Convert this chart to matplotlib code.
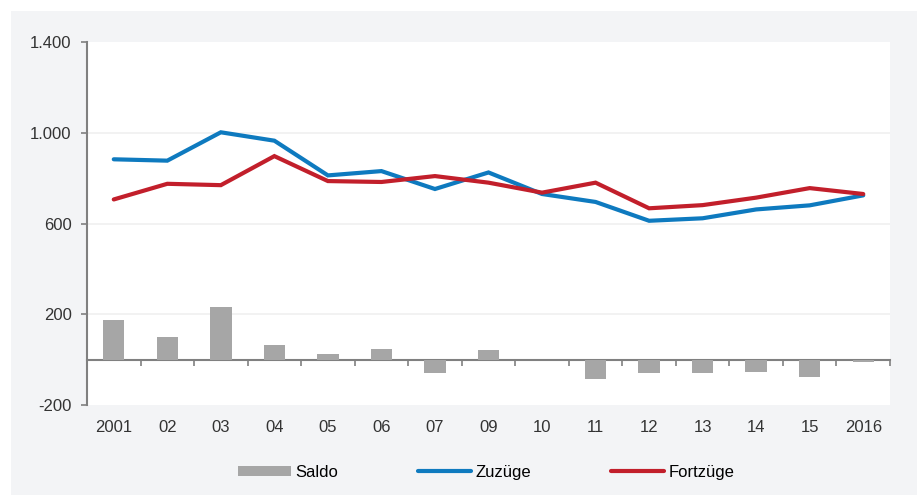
import matplotlib.pyplot as plt
import numpy as np
from matplotlib.patches import Rectangle

# Wanderungen: Zuzuege, Fortzuege und Saldo
jahre = ['2001', '02', '03', '04', '05', '06', '07', '09', '10',
         '11', '12', '13', '14', '15', '2016']
zuzuege = [883, 877, 1002, 965, 812, 831, 752, 825, 730,
           695, 612, 623, 662, 680, 724]
fortzuege = [706, 775, 769, 897, 787, 783, 809, 780, 736,
             780, 667, 681, 714, 756, 730]
saldo = [175, 101, 232, 64, 25, 49, -58, 43, 0,
         -86, -58, -58, -55, -75, -12]
y_ticks = [-200, 200, 600, 1000, 1400]
y_labels = ['-200', '200', '600', '1.000', '1.400']

plt.rcParams['font.family'] = ['Liberation Sans', 'DejaVu Sans']
plt.rcParams['font.size'] = 12

fig = plt.figure(figsize=(9.17, 4.95), dpi=100)
fig.patch.set_facecolor('white')
fig.patches.append(Rectangle((11/917, 0), 1, 484/495, transform=fig.transFigure,
                             facecolor='#f3f4f6', edgecolor='none', zorder=-10))

ax = fig.add_axes([87/917, 90/495, 803/917, 363/495])
ax.set_facecolor('white')

x = np.arange(len(jahre))
b = ax.bar(x, saldo, width=0.4, color='#a6a6a6', edgecolor='none',
           label='Saldo', zorder=2)
l1, = ax.plot(x, zuzuege, color='#0e7abf', lw=3, solid_capstyle='round',
              solid_joinstyle='miter', label='Zuzüge', zorder=3)
l2, = ax.plot(x, fortzuege, color='#c21f2b', lw=3, solid_capstyle='round',
              solid_joinstyle='miter', label='Fortzüge', zorder=4)

ax.set_xlim(-0.5, len(jahre) - 0.5)
ax.set_ylim(-200, 1400)
ax.set_yticks(y_ticks)
ax.set_yticklabels(y_labels, color='#333333')
for v in y_ticks[1:-1]:
    ax.axhline(v, color='#f0f0f0', lw=1.2, zorder=0)

ax.set_xticks(x)
ax.set_xticklabels(jahre, color='#333333')
ax.tick_params(axis='x', length=0, pad=11)
ax.tick_params(axis='y', length=4, width=1.2, color='#808080', pad=7)

for s in ['top', 'right', 'bottom']:
    ax.spines[s].set_visible(False)
ax.spines['left'].set_color('#808080')
ax.spines['left'].set_linewidth(1.5)

# Nulllinie mit Teilstrichen zwischen den Jahren
null = ax.secondary_xaxis(200 / 1600)
null.set_xticks(np.arange(len(jahre)) + 0.5)
null.set_xticklabels([])
null.tick_params(length=4, width=1.2, color='#808080', direction='out')
null.spines['bottom'].set_color('#808080')
null.spines['bottom'].set_linewidth(1.5)

fig.legend([b, l1, l2], ['Saldo', 'Zuzüge', 'Fortzüge'],
           loc='center', bbox_to_anchor=(0.53, 0.046), ncol=3, frameon=False,
           handlelength=3.2, handleheight=0.55, handletextpad=0.25,
           columnspacing=4.8, fontsize=12)

fig.savefig('out.png', dpi=100, facecolor=fig.get_facecolor())
